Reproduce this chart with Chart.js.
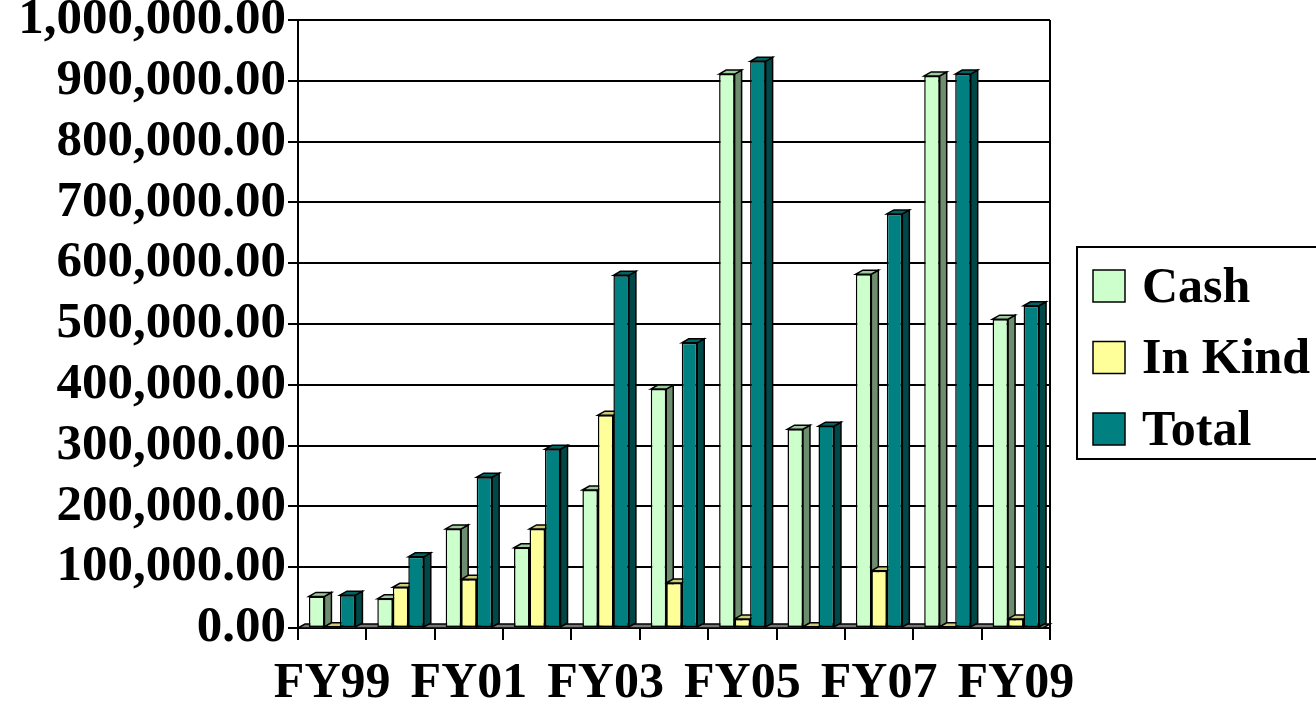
<!DOCTYPE html>
<html>
<head>
<meta charset="utf-8">
<script src="https://cdn.jsdelivr.net/npm/chart.js@4"></script>
<style>
  html, body { margin: 0; padding: 0; background: #fff; }
  #wrap { width: 1316px; height: 707px; }
</style>
</head>
<body>
<div id="wrap"><canvas id="chart"></canvas></div>
<script>
const labels = ['FY99', 'FY00', 'FY01', 'FY02', 'FY03', 'FY04', 'FY05', 'FY06', 'FY07', 'FY08', 'FY09'];
const cash = [52000, 48000, 163000, 132000, 227000, 393000, 911000, 327000, 582000, 908000, 508000];
const inKind = [2000, 67000, 80000, 163000, 350000, 74000, 15000, 2000, 94000, 2000, 15000];
const total = [54000, 117000, 248000, 294000, 580000, 469000, 932000, 332000, 681000, 911000, 530000];
const yTicks = [0, 100000, 200000, 300000, 400000, 500000, 600000, 700000, 800000, 900000, 1000000];

const serif = '"Liberation Serif", "Times New Roman", serif';

// fake 3D: top and side faces drawn behind the flat bars
const depth = {
  id: 'depth',
  beforeDatasetsDraw(chart) {
    const ctx = chart.ctx, a = chart.chartArea;
    const dx = 7, dy = 4;
    ctx.save();
    ctx.lineWidth = 1.5;
    ctx.strokeStyle = '#000';
    // floor
    ctx.fillStyle = '#777';
    ctx.beginPath();
    ctx.moveTo(a.left, a.bottom);
    ctx.lineTo(a.left + dx, a.bottom - dy);
    ctx.lineTo(a.right, a.bottom - dy);
    ctx.lineTo(a.right - dx, a.bottom);
    ctx.closePath();
    ctx.fill();
    ctx.stroke();
    chart.data.datasets.forEach((ds, i) => {
      chart.getDatasetMeta(i).data.forEach(bar => {
        const p = bar.getProps(['x', 'y', 'base', 'width'], true);
        const l = p.x - p.width / 2, r = p.x + p.width / 2;
        ctx.fillStyle = ds.sideColor;
        ctx.beginPath();
        ctx.moveTo(r, p.y);
        ctx.lineTo(r + dx, p.y - dy);
        ctx.lineTo(r + dx, p.base - dy);
        ctx.lineTo(r, p.base);
        ctx.closePath();
        ctx.fill();
        ctx.stroke();
        ctx.fillStyle = ds.topColor;
        ctx.beginPath();
        ctx.moveTo(l, p.y);
        ctx.lineTo(l + dx, p.y - dy);
        ctx.lineTo(r + dx, p.y - dy);
        ctx.lineTo(r, p.y);
        ctx.closePath();
        ctx.fill();
        ctx.stroke();
      });
    });
    ctx.restore();
  },
  afterDraw(chart) {
    const ctx = chart.ctx, a = chart.chartArea;
    ctx.save();
    ctx.strokeStyle = '#000';
    ctx.lineWidth = 2;
    ctx.beginPath();
    ctx.moveTo(a.right, a.top);
    ctx.lineTo(a.right, a.bottom);
    ctx.stroke();
    // legend box
    ctx.strokeRect(1077, 247, 260, 212);
    ctx.font = 'bold 50px ' + serif;
    ctx.textBaseline = 'middle';
    ctx.fillStyle = '#000';
    chart.data.datasets.forEach((ds, i) => {
      const y = 270 + i * 71.5;
      ctx.fillStyle = ds.backgroundColor;
      ctx.fillRect(1093, y, 32, 32);
      ctx.lineWidth = 1.5;
      ctx.strokeRect(1093, y, 32, 32);
      ctx.fillStyle = '#000';
      ctx.fillText(ds.label, 1142, y + 19);
    });
    ctx.restore();
  }
};

new Chart(document.getElementById('chart'), {
  type: 'bar',
  data: {
    labels: labels,
    datasets: [
      { label: 'Cash', data: cash, backgroundColor: '#CCFFCC', topColor: '#9ECB9E', sideColor: '#6E8C6E' },
      { label: 'In Kind', data: inKind, backgroundColor: '#FFFF99', topColor: '#CCCC77', sideColor: '#9A9A5A' },
      { label: 'Total', data: total, backgroundColor: '#008080', topColor: '#006464', sideColor: '#004848' }
    ].map(d => Object.assign(d, {
      borderColor: '#000', borderWidth: 1.5, borderSkipped: false,
      categoryPercentage: 0.68, barPercentage: 1.0
    }))
  },
  options: {
    responsive: true,
    maintainAspectRatio: false,
    animation: false,
    layout: { padding: { left: 0, top: 20, right: 266, bottom: 0 } },
    plugins: { legend: { display: false }, tooltip: { enabled: false } },
    scales: {
      x: {
        grid: { drawOnChartArea: false, drawTicks: true, tickLength: 12, color: '#000', lineWidth: 2, offset: true },
        border: { color: '#000', width: 2 },
        ticks: {
          autoSkip: false, maxRotation: 0, color: '#000', padding: 14,
          font: { family: serif, size: 50, weight: 'bold' },
          callback: function (v, i) { return i % 2 ? '' : this.getLabelForValue(v); }
        },
        afterFit: s => { s.height = 79; s.paddingLeft = 0; s.paddingRight = 0; }
      },
      y: {
        min: 0, max: 1000000,
        afterBuildTicks: s => { s.ticks = yTicks.map(v => ({ value: v })); },
        grid: { color: '#000', lineWidth: 2, tickLength: 10 },
        border: { color: '#000', width: 2 },
        ticks: {
          autoSkip: false, color: '#000', padding: 2,
          font: { family: serif, size: 51, weight: 'bold' },
          callback: v => v.toLocaleString('en-US', { minimumFractionDigits: 2, maximumFractionDigits: 2 })
        },
        afterFit: s => { s.width = 298; s.paddingTop = 0; s.paddingBottom = 0; }
      }
    }
  },
  plugins: [depth]
});
</script>
</body>
</html>
